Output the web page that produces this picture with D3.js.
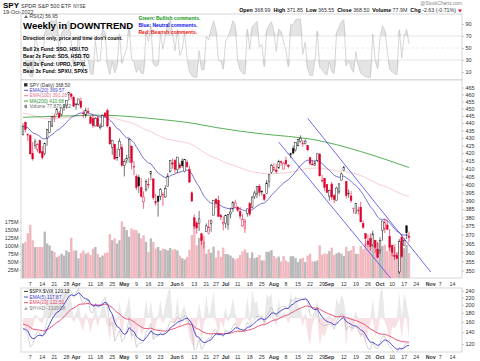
<!DOCTYPE html>
<html>
<head>
<meta charset="utf-8">
<script src="https://cdn.jsdelivr.net/npm/d3@7"></script>
<style>
body { margin: 0; background: #fff; }
svg { display: block; font-family: "Liberation Sans", Arial, sans-serif; }
.ax text { font-size: 5.5px; fill: #333; }
.ax line { stroke: #999; stroke-width: 0.5; }
.ax path { display: none; }
</style>
</head>
<body>
<div id="chart"></div>
<script>
const width = 480, height = 361;
const left = 21, right = 462;

// trading calendar
const holidays = ["2022-04-15", "2022-05-30", "2022-06-20", "2022-07-04", "2022-09-05"];
const firstDay = "2022-03-02", lastDay = "2022-11-18";

const tickLabels = [
  ["2022-03-07", "7"], ["2022-03-14", "14"], ["2022-03-21", "21"], ["2022-03-28", "28"],
  ["2022-04-01", "Apr"], ["2022-04-11", "11"], ["2022-04-18", "18"], ["2022-04-25", "25"],
  ["2022-05-02", "May"], ["2022-05-09", "9"], ["2022-05-16", "16"], ["2022-05-23", "23"],
  ["2022-06-01", "Jun"], ["2022-06-06", "6"], ["2022-06-13", "13"], ["2022-06-21", "21"], ["2022-06-27", "27"],
  ["2022-07-01", "Jul"], ["2022-07-11", "11"], ["2022-07-18", "18"], ["2022-07-25", "25"],
  ["2022-08-01", "Aug"], ["2022-08-08", "8"], ["2022-08-15", "15"], ["2022-08-22", "22"], ["2022-08-29", "29"],
  ["2022-09-01", "Sep"], ["2022-09-12", "12"], ["2022-09-19", "19"], ["2022-09-26", "26"],
  ["2022-10-03", "Oct"], ["2022-10-10", "10"], ["2022-10-17", "17"], ["2022-10-24", "24"],
  ["2022-11-01", "Nov"], ["2022-11-07", "7"], ["2022-11-14", "14"]
];

// SPY daily, 2 Mar - 19 Oct 2022
const opens = [
  432.37,440.47,431.75,431.55,419.62,425.14,422.52,428.12,420.89,419.77,429.89,433.59,438.00,444.34,445.86,446.91,445.94,451.16,452.06,460.02,460.34,457.89,
  453.31,453.13,455.22,446.89,445.59,447.97,444.11,443.08,438.03,443.55,436.81,437.86,446.92,448.54,436.91,423.67,425.83,417.24,422.29,423.59,
  412.07,415.01,417.08,424.55,411.10,405.10,404.49,398.07,389.37,396.71,399.98,406.53,403.50,388.62,392.83,392.83,392.56,392.31,398.67,407.91,413.55,
  415.17,409.42,412.40,414.78,408.10,413.93,409.34,394.88,379.85,376.85,376.51,370.51,365.51,371.89,370.62,376.64,381.40,391.05,390.23,381.23,376.24,
  376.56,375.88,382.11,385.12,385.85,385.85,383.65,375.10,373.61,382.55,388.38,386.08,392.47,394.16,398.92,395.75,393.84,394.36,401.89,407.58,
  409.15,409.12,410.30,414.37,409.66,415.25,412.22,418.78,422.99,422.03,424.77,427.73,425.99,426.26,424.98,417.05,412.90,412.11,415.24,419.39,402.20,403.85,399.92,
  392.89,400.28,393.13,390.37,395.37,402.74,408.78,401.83,394.47,392.96,385.49,382.26,384.40,386.11,376.58,370.58,366.41,367.76,364.38,366.79,361.80,
  361.08,372.40,373.17,375.62,368.97,363.96,358.24,358.17,349.21,368.55,364.01,375.13,368.99
];
const highs = [
  439.72,441.11,433.37,432.30,427.21,429.51,426.43,428.77,424.55,426.84,435.68,441.07,444.86,446.46,450.58,448.49,450.50,452.98,455.91,462.07,461.20,458.76,
  453.46,456.91,457.83,448.93,450.69,450.63,445.00,445.75,444.11,444.73,439.75,445.80,447.57,450.01,438.08,428.69,426.04,422.92,429.64,425.87,
  415.92,418.93,429.66,425.00,414.80,406.41,406.08,404.04,395.80,403.18,403.97,408.57,403.80,394.14,393.17,397.73,395.15,399.45,407.04,415.38,416.46,
  416.24,417.44,414.04,416.61,416.22,415.82,411.74,395.78,381.81,377.94,383.90,370.94,369.38,376.53,378.72,378.83,390.09,391.36,393.16,382.27,380.66,
  381.70,381.98,385.87,389.83,390.64,386.87,386.16,381.92,379.05,385.25,389.09,392.87,396.26,398.84,400.18,396.47,394.06,402.88,406.80,413.03,
  413.41,413.00,415.68,415.09,414.15,417.62,412.75,419.99,424.95,427.21,429.40,431.73,428.56,428.99,425.26,417.10,415.42,415.11,419.56,419.96,405.84,404.10,400.38,
  396.78,401.56,394.12,398.59,400.86,407.51,411.73,401.89,396.92,395.96,385.84,388.55,386.43,389.31,378.30,370.62,370.21,370.73,372.30,367.11,365.91,
  368.55,378.00,379.46,378.72,373.29,364.21,363.03,359.82,367.51,370.26,367.98,375.45,371.85
];
const lows = [
  431.57,433.80,427.88,419.36,415.12,422.82,420.44,419.53,415.79,418.42,424.80,433.19,437.22,440.68,445.86,443.71,444.76,448.43,450.06,455.57,456.47,451.16,
  449.14,452.26,449.82,443.47,443.53,445.94,439.39,436.65,437.84,437.68,435.61,437.68,443.48,437.10,425.44,418.84,416.07,415.01,417.60,411.21,
  405.02,413.36,413.71,409.44,405.73,396.50,394.82,391.96,385.15,395.61,397.60,402.58,390.55,387.11,380.54,390.38,386.96,391.89,398.45,407.70,410.03,
  406.93,407.04,409.51,410.55,407.61,410.38,401.44,389.75,373.30,370.59,372.12,364.08,362.17,371.81,370.18,371.73,381.37,385.45,380.53,378.42,372.56,
  373.80,372.90,379.60,383.27,385.66,383.50,378.99,374.66,371.04,380.54,380.66,385.39,391.03,391.63,392.75,393.21,389.95,394.05,398.15,406.77,
  408.40,406.82,410.00,411.86,409.60,411.83,410.22,416.67,419.21,421.03,424.28,426.87,424.13,425.59,421.22,412.29,412.07,411.77,414.09,405.25,401.20,396.00,394.75,
  390.04,390.33,388.42,390.24,394.12,402.46,408.46,391.40,391.77,388.78,382.42,382.18,381.70,377.38,373.44,363.29,363.03,360.87,363.19,359.70,357.04,
  359.21,366.57,370.95,372.68,360.94,357.67,355.71,356.30,348.11,356.96,364.01,367.52,365.55
];
const closes = [
  437.89,435.71,432.17,419.43,416.25,427.41,425.48,420.07,417.00,426.17,435.62,441.07,444.52,444.39,449.59,443.80,450.49,452.69,455.91,461.55,458.70,451.64,
  452.92,456.80,451.03,446.52,448.77,447.57,439.92,438.29,443.31,437.79,437.97,445.04,444.71,438.06,426.04,428.51,416.10,417.27,427.81,412.00,
  414.48,416.38,429.06,413.81,411.34,398.17,399.09,392.75,392.34,401.72,400.09,408.32,391.86,389.46,389.63,396.92,393.89,397.37,405.31,415.26,412.93,
  409.59,417.39,410.54,411.79,415.74,411.22,401.44,389.80,375.00,373.87,379.20,366.65,365.86,375.07,374.39,378.06,390.08,388.59,380.65,380.34,377.25,
  381.24,381.96,383.25,388.99,388.67,384.23,380.83,378.83,377.91,385.13,381.95,392.27,394.77,398.79,395.09,395.57,390.89,401.04,406.07,411.99,
  410.77,408.06,414.45,414.17,413.47,412.99,411.35,419.99,419.99,427.10,428.86,429.70,426.65,427.89,422.14,413.35,412.35,413.67,419.51,405.31,402.63,398.21,395.18,
  396.42,392.24,390.76,397.78,400.38,406.60,410.97,393.10,394.60,390.12,385.56,388.55,384.09,377.39,374.22,367.95,364.31,363.38,370.53,362.79,357.18,
  366.61,377.97,377.09,373.20,362.79,360.02,357.74,356.56,365.97,357.63,366.82,371.13,368.50
];
// volume, millions
const volumes = [
  108,113,140,166,118,97,97,97,97,145,108,102,86,81,65,70,76,70,86,81,126,86,
  86,62,78,86,76,80,72,92,97,75,65,70,78,80,137,118,124,108,118,177,
  160,150,129,155,150,150,140,124,134,113,81,124,113,92,97,86,92,90,86,94,88,
  90,86,70,62,58,65,88,134,166,102,125,129,110,76,90,79,98,64,86,66,95,
  75,74,70,63,58,62,72,83,89,79,63,80,62,65,72,55,55,82,82,87,
  69,62,67,52,69,55,50,68,68,62,50,60,63,50,70,76,52,52,55,102,73,77,75,
  84,95,72,77,80,76,69,97,84,87,100,76,75,100,90,108,100,104,105,108,110,
  91,100,104,84,105,92,106,81,112,108,93,104,77.87
];
// $SPX:$VIX
const spxVix = [
  148.5,143.4,135.5,115.4,118.8,132.1,141.2,137.0,131.6,143.3,163.8,172.3,186.8,189.4,196.6,188.9,208.5,218.2,232.9,244.9,238.0,220.3,
  231.4,246.7,215.1,202.7,208.9,212.2,181.1,181.2,203.8,193.4,198.1,208.9,219.5,193.7,151.5,159.1,124.5,132.4,143.1,123.7,
  128.5,142.8,169.3,133.0,136.7,114.9,121.3,121.0,123.9,139.6,146.1,156.9,127.0,133.1,132.8,139.8,134.1,140.5,147.8,161.9,158.1,
  159.9,169.4,166.1,164.7,173.6,172.1,154.3,140.9,110.6,114.7,128.4,111.6,117.9,124.6,129.7,130.5,143.7,144.6,134.6,135.5,131.8,
  143.2,139.1,143.8,149.6,158.2,147.3,140.0,141.7,143.6,159.4,151.4,160.6,165.8,173.1,172.1,169.8,158.8,173.1,182.4,193.7,
  180.4,171.0,189.4,193.8,196.1,194.6,189.5,213.4,208.5,219.3,215.6,218.9,215.0,219.4,205.5,174.2,171.5,181.8,193.2,159.0,154.1,152.4,153.2,
  155.6,154.5,145.6,161.9,170.1,178.9,172.7,144.6,151.3,149.0,147.0,151.3,141.8,135.2,137.2,123.3,113.3,111.8,123.1,114.3,113.3,
  122.2,132.8,132.5,122.6,116.0,111.3,106.7,106.5,114.9,112.0,117.3,122.0,120.13
];
// $HYAD
const hyad = [
  -600,-900,-1100,-1300,-800,300,100,-300,-500,1200,2200,2400,2600,2000,2500,1500,2400,2600,2300,2800,1600,-400,
  600,1400,-600,-1200,500,-300,-1300,-400,1300,-800,300,1500,900,-800,-2000,400,-1900,-300,1500,-1800,
  300,900,2000,-2200,-900,-2300,-400,-1500,-1100,1600,200,1500,-2000,-600,200,1600,-500,1200,2200,2800,-300,
  -600,1800,-900,700,1100,-500,-1700,-2300,-2600,-700,1400,-2300,-400,2000,200,1000,2400,-300,-1700,-200,-900,
  900,-300,600,1800,400,-900,-700,-200,-100,1900,-500,2500,1300,1500,-200,300,-900,2100,1800,2200,
  -200,-700,1700,200,500,300,-500,2400,600,2000,1100,900,-700,400,-1500,-2400,-600,300,1600,-2500,-1400,-1600,-1000,
  300,-800,-600,1800,1100,2100,1500,-2600,200,-1300,-1000,600,-1100,-1800,-1400,-2200,-1300,-400,1700,-1600,-1200,
  2200,2700,-300,-1000,-2200,-800,-900,-600,2300,-1800,2200,1300,-1910.08
];
// 200-day MA, read every two weeks
const ma200Days = ["2022-03-02","2022-03-16","2022-03-30","2022-04-13","2022-04-28","2022-05-13","2022-05-26","2022-06-10","2022-06-27",
  "2022-07-12","2022-07-26","2022-08-09","2022-08-23","2022-09-07","2022-09-21","2022-10-05","2022-10-19"];
const ma200 = [444, 444.5, 445, 445.5, 445, 443.5, 442, 440, 437, 434.5, 432.5, 431, 429, 425.5, 421, 416, 410.68];

// trend lines [date, price]
const trendLines = [
  [["2022-08-19", 443.3], ["2022-11-01", 349.2]],
  [["2022-08-03", 427.2], ["2022-10-10", 344.9]]
];

const priceTicks = d3.range(350, 466, 5);
const volTicks = [25, 50, 75, 100, 125, 150, 175];
const rsiTicks = [10, 30, 50, 70, 90];
const ratioTicks = [120, 140, 160, 180, 200, 220, 240];

// ------------------------------------------------------------------
const fmt = d3.timeFormat("%Y-%m-%d");
const parse = d3.timeParse("%Y-%m-%d");
const days = d3.timeDay.range(parse(firstDay), d3.timeDay.offset(parse(lastDay), 1))
  .filter(d => d.getDay() % 6 !== 0 && !holidays.includes(fmt(d)))
  .map(fmt);
const idx = s => days.indexOf(s);

function ema(values, n, seed) {
  const k = 2 / (n + 1);
  let e = seed;
  return values.map(v => (e = e + k * (v - e)));
}
function rsi(values, n) {
  let g = 1.5, l = 1.5;
  const out = [null];
  for (let i = 1; i < values.length; i++) {
    const d = values[i] - values[i - 1];
    g = (g * (n - 1) + Math.max(d, 0)) / n;
    l = (l * (n - 1) + Math.max(-d, 0)) / n;
    out.push(100 - 100 / (1 + g / l));
  }
  return out;
}

const ema20 = ema(closes, 20, 437.5);
const ema100 = ema(closes, 100, 447);
const rsi2 = rsi(closes, 2);
const ratioEma5 = ema(spxVix, 5, 145);
const ratioEma20 = ema(spxVix, 20, 156);

const x = d3.scaleLinear().domain([0, 178]).range([23, 452.4]);
const yRsi = d3.scaleLinear().domain([0, 100]).range([78, 18]);
const yPrice = d3.scaleLog().domain([350, 465]).range([270.5, 87.5]);
const yVol = d3.scaleLinear().domain([0, 175]).range([278, 222]);
const yRatio = d3.scaleLog().domain([120, 240]).range([344, 290.7]);
const yHyad = d3.scaleLinear().domain([-3000, 3000]).range([352, 284]);

const panels = {
  rsi: [14, 80],
  price: [80, 278],
  lower: [288, 352]
};

const svg = d3.select("#chart").append("svg")
  .attr("width", width).attr("height", height);

const defs = svg.append("defs");
Object.entries(panels).forEach(([k, [t, b]]) => {
  defs.append("clipPath").attr("id", "clip-" + k)
    .append("rect").attr("x", left).attr("y", t).attr("width", right - left).attr("height", b - t);
});

// header
const head = svg.append("text").attr("x", 3).attr("y", 7.5);
head.append("tspan").attr("font-size", 8).attr("font-weight", "bold").text("SPY");
head.append("tspan").attr("font-size", 5.5).attr("dx", 2).attr("fill", "#333").text("SPDR S&P 500 ETF");
head.append("tspan").attr("font-size", 4.5).attr("dx", 2).attr("fill", "#333").text("NYSE");
svg.append("text").attr("x", 3).attr("y", 13.5).attr("font-size", 5.5).attr("fill", "#333").text("19-Oct-2022");
svg.append("text").attr("x", 462).attr("y", 5).attr("text-anchor", "end")
  .attr("font-size", 4.8).attr("fill", "#888").text("@StockCharts.com");

const quote = [["Open", "368.99"], ["High", "371.85"], ["Low", "365.55"], ["Close", "368.50"], ["Volume", "77.9M"], ["Chg", "-2.63 (-0.71%)"]];
const q = svg.append("text").attr("x", 456).attr("y", 12).attr("text-anchor", "end").attr("font-size", 5.3);
quote.forEach(([k, v], i) => {
  q.append("tspan").attr("font-weight", "bold").attr("dx", i ? 3 : 0).text(k);
  q.append("tspan").attr("dx", 1.5).attr("fill", "#333").text(v);
});
svg.append("path").attr("d", "M458,9.5 L462,9.5 L460,12.5 Z").attr("fill", "#e0103a");

// panel frames
function frame(t, b) {
  svg.append("rect").attr("x", left).attr("y", t).attr("width", right - left).attr("height", b - t)
    .attr("fill", "#fff").attr("stroke", "#bbb").attr("stroke-width", 0.6);
}
frame(...panels.rsi);
frame(...panels.price);
frame(...panels.lower);

// ---------------- RSI panel ----------------
const gR = svg.append("g").attr("clip-path", "url(#clip-rsi)");
const rsiPts = rsi2.map((v, i) => [i, v]).filter(d => d[1] != null);
gR.append("path").datum(rsiPts)
  .attr("d", d3.area().x(d => x(d[0])).y0(yRsi(70)).y1(d => yRsi(Math.max(d[1], 70))))
  .attr("fill", "#e4e4e4");
gR.append("path").datum(rsiPts)
  .attr("d", d3.area().x(d => x(d[0])).y0(yRsi(30)).y1(d => yRsi(Math.min(d[1], 30))))
  .attr("fill", "#e4e4e4");
[70, 30].forEach(v => gR.append("line").attr("x1", left).attr("x2", right)
  .attr("y1", yRsi(v)).attr("y2", yRsi(v)).attr("stroke", "#d6d6d6").attr("stroke-width", 0.6));
gR.append("line").attr("x1", left).attr("x2", right).attr("y1", yRsi(50)).attr("y2", yRsi(50))
  .attr("stroke", "#ddd").attr("stroke-width", 0.6).attr("stroke-dasharray", "3,2");
gR.append("path").datum(rsiPts)
  .attr("d", d3.line().x(d => x(d[0])).y(d => yRsi(d[1])))
  .attr("fill", "none").attr("stroke", "#c4c4c4").attr("stroke-width", 0.7);

svg.append("g").attr("class", "ax").attr("transform", `translate(${right},0)`)
  .call(d3.axisRight(yRsi).tickValues(rsiTicks).tickSize(2).tickPadding(1.5));

const rsiLeg = svg.append("g").attr("font-size", 5).attr("fill", "#333");
rsiLeg.append("path").attr("d", "M24,18 L26,15 L28,18 Z").attr("fill", "#666");
rsiLeg.append("text").attr("x", 29.5).attr("y", 18.3).text("RSI(2) 56.95");

svg.append("text").attr("x", 23).attr("y", 29).attr("font-size", 9.6).attr("font-weight", "bold")
  .text("Weekly in DOWNTREND");
svg.append("text").attr("x", 23).attr("y", 39.5).attr("font-size", 5).attr("font-weight", "bold")
  .text("Direction only, price and time don't count.");
["Bull 2x Fund: SSO, HSU.TO", "Bear 2x Fund: SDS, HSD.TO", "Bull 3x Fund: UPRO, SPXL", "Bear 3x Fund: SPXU, SPXS"]
  .forEach((t, i) => svg.append("text").attr("x", 23).attr("y", 51 + i * 7.3)
    .attr("font-size", 5).attr("font-weight", "bold").text(t));
[["Green: Bullish comments.", "#119911"], ["Blue: Neutral comments.", "#1111ee"], ["Red: Bearish comments.", "#ee1111"]]
  .forEach(([t, c], i) => svg.append("text").attr("x", 138.5).attr("y", 19.5 + i * 7.4)
    .attr("font-size", 5).attr("font-weight", "bold").attr("fill", c).text(t));

// ---------------- price panel ----------------
const gP = svg.append("g").attr("clip-path", "url(#clip-price)");
const up = (i) => i === 0 || closes[i] >= closes[i - 1];

// volume
gP.append("g").selectAll("rect").data(volumes).join("rect")
  .attr("x", (d, i) => x(i) - 1.2).attr("width", 2.4)
  .attr("y", d => yVol(d)).attr("height", d => yVol(0) - yVol(d))
  .attr("fill", (d, i) => up(i) ? "#b9b9b9" : "#f2b8c0");

// moving averages
gP.append("path").datum(ema100)
  .attr("d", d3.line().x((d, i) => x(i)).y(d => yPrice(d)))
  .attr("fill", "none").attr("stroke", "#f6c6cf").attr("stroke-width", 0.9);
gP.append("path").datum(ma200.map((v, i) => [idx(ma200Days[i]), v]))
  .attr("d", d3.line().curve(d3.curveMonotoneX).x(d => x(d[0])).y(d => yPrice(d[1])))
  .attr("fill", "none").attr("stroke", "#2f9a2f").attr("stroke-width", 0.8);
gP.append("path").datum(ema20)
  .attr("d", d3.line().x((d, i) => x(i)).y(d => yPrice(d)))
  .attr("fill", "none").attr("stroke", "#5050c8").attr("stroke-width", 0.8);

// trend lines
gP.append("g").selectAll("line").data(trendLines).join("line")
  .attr("x1", d => x(idx(d[0][0]))).attr("y1", d => yPrice(d[0][1]))
  .attr("x2", d => x(idx(d[1][0]))).attr("y2", d => yPrice(d[1][1]))
  .attr("stroke", "#4646f0").attr("stroke-width", 0.8);

// candles
const red = "#e0002e";
const candles = gP.append("g").selectAll("g").data(closes).join("g");
candles.append("line")
  .attr("x1", (d, i) => x(i)).attr("x2", (d, i) => x(i))
  .attr("y1", (d, i) => yPrice(highs[i])).attr("y2", (d, i) => yPrice(lows[i]))
  .attr("stroke", (d, i) => up(i) ? "#111" : red).attr("stroke-width", 0.6);
candles.append("rect")
  .attr("x", (d, i) => x(i) - 0.85).attr("width", 1.7)
  .attr("y", (d, i) => yPrice(Math.max(opens[i], closes[i])))
  .attr("height", (d, i) => Math.max(0.6, Math.abs(yPrice(opens[i]) - yPrice(closes[i]))))
  .attr("fill", (d, i) => closes[i] > opens[i] ? "#fff" : (up(i) ? "#111" : red))
  .attr("stroke", (d, i) => up(i) ? "#111" : red).attr("stroke-width", 0.45);

svg.append("g").attr("class", "ax").attr("transform", `translate(${right},0)`)
  .call(d3.axisRight(yPrice).tickValues(priceTicks).tickFormat(d3.format("d")).tickSize(2).tickPadding(1.5));
svg.append("g").attr("class", "ax").attr("transform", `translate(${left},0)`)
  .call(d3.axisLeft(yVol).tickValues(volTicks).tickFormat(d => d + "M").tickSize(1.5).tickPadding(1));

const pLeg = svg.append("g").attr("font-size", 4.8);
[["SPY (Daily) 368.50", "#333"], ["EMA(20) 369.57", "#4444cc"], ["EMA(100) 391.28", "#e8708a"],
 ["MA(200) 410.68", "#2f8f2f"], ["Volume 77,870,132", "#666"]].forEach(([t, c], i) => {
  const yy = 86.5 + i * 5.4;
  if (i === 0) pLeg.append("rect").attr("x", 24).attr("y", yy - 3.3).attr("width", 3.5).attr("height", 3.3).attr("fill", "#333");
  else if (i === 4) pLeg.append("rect").attr("x", 24.5).attr("y", yy - 3.3).attr("width", 2.5).attr("height", 3.3).attr("fill", "#888");
  else pLeg.append("line").attr("x1", 24).attr("x2", 28).attr("y1", yy - 1.6).attr("y2", yy - 1.6).attr("stroke", c).attr("stroke-width", 0.9);
  pLeg.append("text").attr("x", 29.5).attr("y", yy).attr("fill", c).text(t);
});

// ---------------- lower panel ----------------
const gL = svg.append("g").attr("clip-path", "url(#clip-lower)");
const zero = yHyad(0);
gL.append("path").datum(hyad)
  .attr("d", d3.area().x((d, i) => x(i)).y0(zero).y1(d => yHyad(Math.max(d, 0))))
  .attr("fill", "#e9e9e9");
gL.append("path").datum(hyad)
  .attr("d", d3.area().x((d, i) => x(i)).y0(zero).y1(d => yHyad(Math.min(d, 0))))
  .attr("fill", "#f8e1e5");
gL.append("path").datum(spxVix)
  .attr("d", d3.line().x((d, i) => x(i)).y(d => yRatio(d)))
  .attr("fill", "none").attr("stroke", "#aaa").attr("stroke-width", 0.5);
gL.append("path").datum(ratioEma20)
  .attr("d", d3.line().x((d, i) => x(i)).y(d => yRatio(d)))
  .attr("fill", "none").attr("stroke", "#e8446a").attr("stroke-width", 0.9);
gL.append("path").datum(ratioEma5)
  .attr("d", d3.line().x((d, i) => x(i)).y(d => yRatio(d)))
  .attr("fill", "none").attr("stroke", "#3a3ad0").attr("stroke-width", 0.9);

svg.append("g").attr("class", "ax").attr("transform", `translate(${right},0)`)
  .call(d3.axisRight(yRatio).tickValues(ratioTicks).tickFormat(d3.format("d")).tickSize(2).tickPadding(1.5));

const lLeg = svg.append("g").attr("font-size", 4.8);
[["$SPX:$VIX 120.13", "#222"], ["EMA(5) 117.87", "#3a3ad0"], ["EMA(20) 122.51", "#e8446a"], ["$HYAD -1910.08", "#888"]]
  .forEach(([t, c], i) => {
    const yy = 293 + i * 5.6;
    if (i === 3) lLeg.append("path").attr("d", `M24,${yy} L26,${yy - 3.2} L28,${yy} Z`).attr("fill", "#aaa");
    else lLeg.append("line").attr("x1", 24).attr("x2", 28).attr("y1", yy - 1.6).attr("y2", yy - 1.6).attr("stroke", c).attr("stroke-width", 0.9);
    lLeg.append("text").attr("x", 29.5).attr("y", yy).attr("fill", c).text(t);
  });

// ---------------- date axes ----------------
[285.5, 358.5].forEach(yy => {
  svg.append("g").attr("font-size", 5.3).attr("fill", "#333").attr("text-anchor", "middle")
    .selectAll("text").data(tickLabels).join("text")
    .attr("x", d => x(idx(d[0]))).attr("y", yy)
    .attr("font-weight", d => /^[A-Z]/.test(d[1]) ? "bold" : null)
    .text(d => d[1]);
});
</script>
</body>
</html>
